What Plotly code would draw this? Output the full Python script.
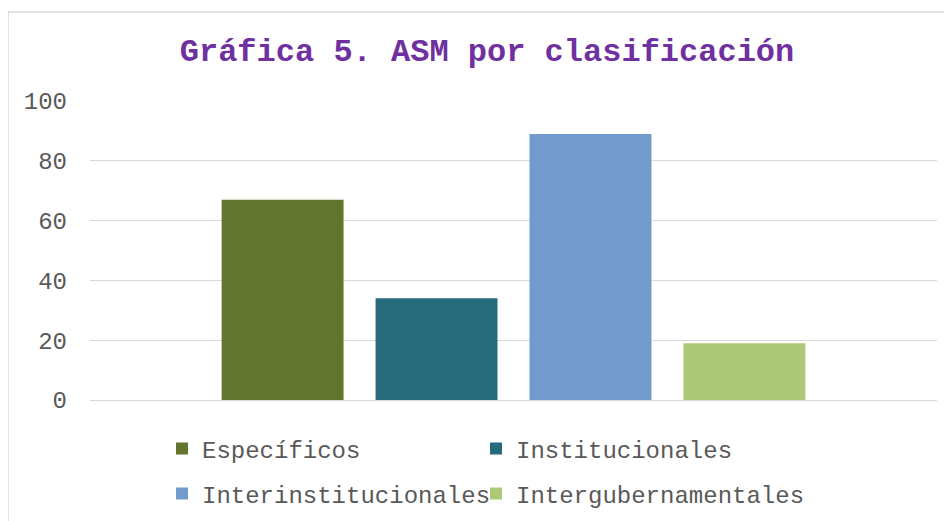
import plotly.graph_objects as go

categories = ["Específicos", "Institucionales", "Interinstitucionales", "Intergubernamentales"]
values = [67, 34, 89, 19]
colors = ["#61752F", "#276A7C", "#729ACC", "#AEC87A"]
legend_ids = ["legend2", "legend3", "legend4", "legend5"]
y_ticks = [0, 20, 40, 60, 80, 100]

# the page body has an 8px default margin, so figure coordinates = screen - 8
OFF = 8
W, H = 952, 521
ML, MR, MT, MB = 90 - OFF, W - (937 - OFF), 101 - OFF, H - (400 - OFF)
PW = W - ML - MR
PH = H - MT - MB

def px_x(x):
    return (x - OFF - ML) / PW

def px_y(y):
    return (H - MB - (y - OFF)) / PH

FONT = "Liberation Mono, Courier New, monospace"

fig = go.Figure()
for name, val, col, lg in zip(categories, values, colors, legend_ids):
    fig.add_trace(go.Bar(
        x=["ASM"], y=[val], name=name, marker=dict(color=col, line=dict(width=0)),
        legend=lg, hoverinfo="name+y",
    ))

legend_common = dict(
    orientation="h", xanchor="left", yanchor="middle",
    xref="container", yref="container",
    font=dict(family=FONT, size=24, color="#595959"),
    bgcolor="rgba(0,0,0,0)", borderwidth=0,
    itemclick=False, itemdoubleclick=False,
)

# legend entry positions in screen pixels: (x of entry origin, y of row centre)
leg_pos = [(162, 449), (476, 449), (162, 494), (476, 494)]
legends = {}
for lg, (lx, ly) in zip(legend_ids, leg_pos):
    legends[lg] = dict(x=(lx - OFF) / W, y=1 - (ly - OFF) / H, **legend_common)

fig.update_layout(
    width=W, height=H,
    margin=dict(l=ML, r=MR, t=MT, b=MB, pad=0, autoexpand=False),
    paper_bgcolor="white", plot_bgcolor="white",
    barmode="group", bargap=0.273, bargroupgap=0.208,
    showlegend=True,
    title=dict(
        text="<b>Gráfica 5. ASM por clasificación</b>",
        font=dict(family=FONT, size=32, color="#7030A0"),
        x=(487 - OFF) / W, xanchor="center", xref="container",
        y=1 - (50 - OFF) / H, yanchor="middle", yref="container",
    ),
    xaxis=dict(showticklabels=False, showgrid=False, zeroline=False, showline=False, ticks=""),
    yaxis=dict(
        range=[0, 100], tickvals=y_ticks, showgrid=True, gridcolor="#D9D9D9", gridwidth=1.3,
        zeroline=True, zerolinecolor="#D9D9D9", zerolinewidth=1.3, showline=False, ticks="",
        tickfont=dict(family=FONT, size=24, color="#595959"), ticklabelstandoff=22,
    ),
    shapes=[dict(
        type="rect", xref="paper", yref="paper",
        x0=px_x(8), x1=px_x(1000), y0=px_y(600), y1=px_y(12),
        line=dict(color="#D9D9D9", width=1.5), fillcolor="rgba(0,0,0,0)", layer="below",
    )],
    **legends,
)

fig.write_html("out.html")
